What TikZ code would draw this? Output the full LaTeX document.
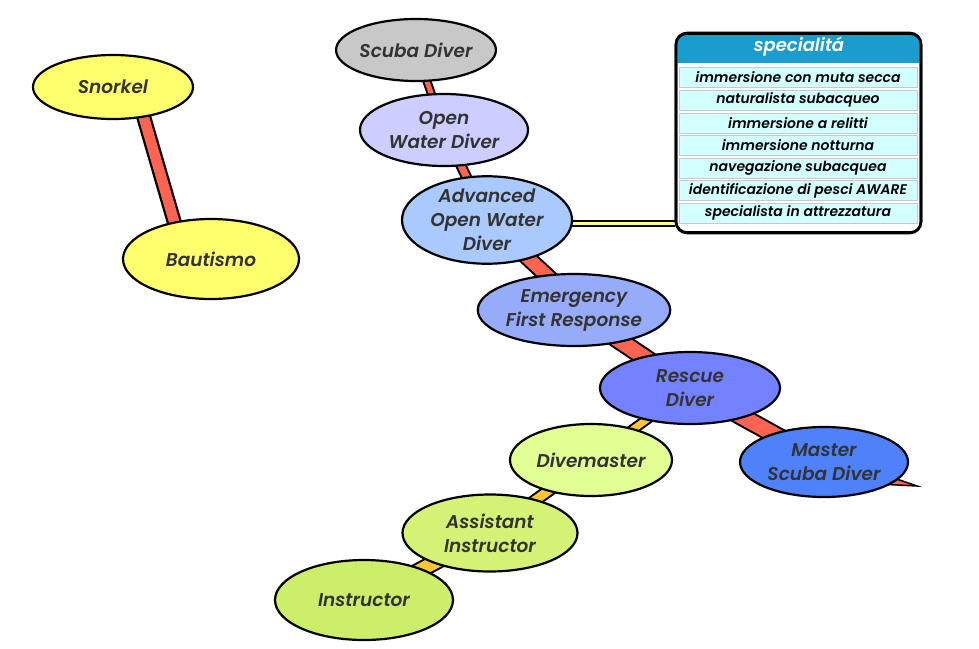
\documentclass[tikz,border=0pt]{standalone}
\usepackage{fontspec}
\setmainfont{Poppins}[BoldItalicFont={Poppins SemiBold Italic}]
\usetikzlibrary{shapes.geometric,backgrounds}
\definecolor{txt}{HTML}{333333}
\definecolor{bandred}{HTML}{FF6452}
\definecolor{bandorange}{HTML}{FFC43A}
\definecolor{cYellow}{HTML}{FFFF6E}
\definecolor{cGray}{HTML}{C8C8C8}
\definecolor{cOWD}{HTML}{CDCDFF}
\definecolor{cAOWD}{HTML}{A9C9FF}
\definecolor{cEFR}{HTML}{96ACFA}
\definecolor{cRescue}{HTML}{7482FF}
\definecolor{cMaster}{HTML}{4F82FA}
\definecolor{cDM}{HTML}{E2FF94}
\definecolor{cAI}{HTML}{D6F276}
\definecolor{cInstr}{HTML}{CDEE6A}
\definecolor{hdr}{HTML}{1A9CCF}
\definecolor{rowc}{HTML}{D2FFFF}
\definecolor{yline}{HTML}{FFFF88}
\tikzset{
  lvl/.style={ellipse, draw=black, line width=2.2pt, inner sep=0pt,
    font=\fontsize{18.5}{24}\selectfont\bfseries\itshape, text=txt, align=center},
  redband/.style={line width=#1, draw=bandred},
  orband/.style={line width=#1, draw=bandorange},
  outline/.style={line width=#1, draw=black},
  row/.style={draw=black!22, line width=0.8pt, fill=rowc, minimum width=238pt, minimum height=20pt, inner sep=0pt,
    font=\fontsize{14}{15}\selectfont\bfseries\itshape, text=black}
}
\begin{document}
\begin{tikzpicture}[x=1pt,y=-1pt]
\useasboundingbox (0,0) rectangle (979,648);
% nodes
\node[lvl, fill=cYellow, minimum width=160pt, minimum height=64pt] (snork) at (113,87) {Snorkel};
\node[lvl, fill=cYellow, minimum width=176pt, minimum height=80pt] (baut) at (211,259) {Bautismo};
\node[lvl, fill=cGray, minimum width=142pt, minimum height=62pt] (scuba) at (416,50) {Scuba Diver};
\node[lvl, fill=cOWD, minimum width=168pt, minimum height=72pt] (owd) at (444,130) {Open\\Water Diver};
\node[lvl, fill=cAOWD, minimum width=170pt, minimum height=75pt] (aowd) at (487,220) {Advanced\\Open Water\\Diver};
\node[lvl, fill=cEFR, minimum width=182pt, minimum height=72pt] (efr) at (574,310) {Emergency\\First Response};
\node[lvl, fill=cRescue, minimum width=180pt, minimum height=72pt] (resc) at (690,388) {Rescue\\Diver};
\node[lvl, fill=cMaster, minimum width=168pt, minimum height=70pt] (msd) at (824,462) {Master\\Scuba Diver};
\node[lvl, fill=cDM, minimum width=162pt, minimum height=72pt] (dm) at (591,460) {Divemaster};
\node[lvl, fill=cAI, minimum width=175pt, minimum height=77pt] (ai) at (490,533) {Assistant\\Instructor};
\node[lvl, fill=cInstr, minimum width=178pt, minimum height=80pt] (instr) at (364,600) {Instructor};
% specialita box
\node[draw=black, line width=2.6pt, rounded corners=11pt, fill=white, minimum width=245pt, minimum height=200pt, inner sep=0pt] (box) at (798.5,133) {};
\begin{scope}
\clip[rounded corners=10pt] (676.5,34.5) rectangle (920.5,231.5);
\fill[hdr] (676,34) rectangle (921,63);
\end{scope}
\draw[line width=2.6pt, rounded corners=11pt] (676,33.5) rectangle (921,232.5);
\node[font=\fontsize{18}{20}\selectfont\bfseries\itshape, text=white] (hd) at (799,47) {specialitá};
\node[row] (r1) at (798,77) {immersione con muta secca};
\node[row] (r2) at (798,100) {naturalista subacqueo};
\node[row] (r3) at (798,123) {immersione a relitti};
\node[row] (r4) at (798,145.5) {immersione notturna};
\node[row] (r5) at (798,168) {navegazione subacquea};
\node[row] (r6) at (798,190.5) {identificazione di pesci AWARE};
\node[row] (r7) at (798,213) {specialista in attrezzatura};
\coordinate (tip) at (917,486);
\coordinate (yl) at ([yshift=-3.5pt]aowd.center);
% connectors
\begin{pgfonlayer}{background}
\draw[outline=15pt] ([xshift=22pt]snork.center) -- ([xshift=-26pt]baut.center);
\draw[redband=10.5pt] ([xshift=22pt]snork.center) -- ([xshift=-26pt]baut.center);
\draw[outline=9pt] (scuba.center) -- (owd.center);
\draw[redband=5pt] (scuba.center) -- (owd.center);
\draw[outline=11pt] (owd.center) -- (aowd.center);
\draw[redband=7pt] (owd.center) -- (aowd.center);
\draw[outline=17pt] (aowd.center) -- ([xshift=10pt]efr.center);
\draw[redband=13pt] (aowd.center) -- ([xshift=10pt]efr.center);
\draw[outline=19pt] (efr.center) -- (resc.center);
\draw[redband=15pt] (efr.center) -- (resc.center);
\draw[outline=19pt] (resc.center) -- (msd.center);
\draw[redband=15pt] (resc.center) -- (msd.center);
\draw[outline=11pt] (resc.center) -- (dm.center);
\draw[orband=7pt] (resc.center) -- (dm.center);
\draw[outline=13pt] (dm.center) -- (ai.center);
\draw[orband=9pt] (dm.center) -- (ai.center);
\draw[outline=17pt] (ai.center) -- (instr.center);
\draw[orband=13pt] (ai.center) -- (instr.center);
\draw[outline=7.5pt] (yl) -- (yl -| box.west);
\draw[line width=3pt, yline] (yl) -- (yl -| box.west);
\draw[black, line width=1.5pt, fill=bandred] ([shift={(58,12)}]msd.center) -- (tip) -- ([shift={(54,22)}]msd.center) -- cycle;
\end{pgfonlayer}
\end{tikzpicture}
\end{document}
